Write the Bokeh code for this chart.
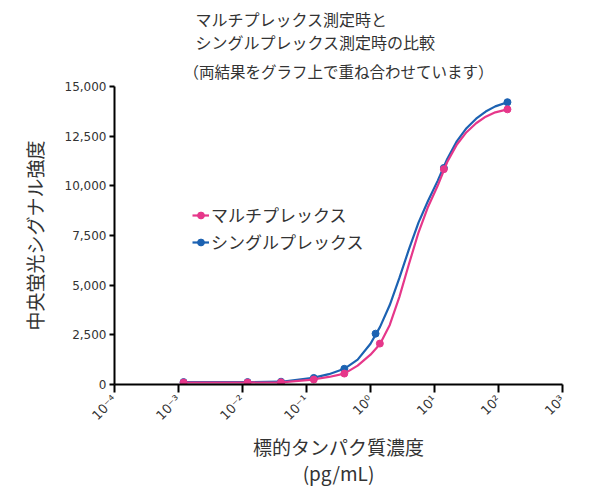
from math import pi
from bokeh.plotting import figure
from bokeh.models import (Range1d, FixedTicker, NumeralTickFormatter, Title,
                          Legend, LegendItem)
from bokeh.embed import file_html
from bokeh.resources import INLINE

# ---- data ----
title_lines = ["マルチプレックス測定時と", "シングルプレックス測定時の比較"]
subtitle = "（両結果をグラフ上で重ね合わせています）"
y_label = "中央蛍光シグナル強度"
x_label = ["標的タンパク質濃度", "(pg/mL)"]
series_names = ["マルチプレックス", "シングルプレックス"]

x_ticks = [0.0001, 0.001, 0.01, 0.1, 1, 10, 100, 1000]
x_tick_labels = ["10⁻⁴", "10⁻³", "10⁻²", "10⁻¹", "10⁰", "10¹", "10²", "10³"]
y_ticks = [0, 2500, 5000, 7500, 10000, 12500, 15000]

# measured points
multi_x = [0.0012, 0.012, 0.04, 0.13, 0.39, 1.4, 14, 138]
multi_y = [100, 100, 110, 250, 550, 2060, 10840, 13850]
single_x = [0.0012, 0.012, 0.04, 0.13, 0.39, 1.2, 14, 138]
single_y = [120, 120, 140, 330, 790, 2560, 10900, 14210]

# fitted curves
curve_x = [0.0012, 0.012, 0.04, 0.126, 0.224, 0.39, 0.63, 1.0, 1.41, 2.0, 2.82,
           3.98, 5.62, 7.94, 11.2, 15.8, 22.4, 31.6, 44.7, 63.1, 89.1, 138]
multi_curve = [100, 100, 110, 250, 380, 550, 950, 1500, 2040, 3000, 4400,
               6050, 7650, 8950, 10000, 11200, 12080, 12700, 13150, 13480, 13700, 13850]
single_curve = [120, 120, 140, 330, 520, 790, 1250, 2050, 2900, 4000, 5350,
                6800, 8150, 9250, 10250, 11350, 12250, 12900, 13380, 13740, 14000, 14210]

PINK = "#e6378a"
BLUE = "#1c62b2"
TXT = "#333333"
JP = "Noto Sans CJK JP"

p = figure(width=581, height=489, x_axis_type="log",
           x_range=Range1d(1e-4, 1e3), y_range=Range1d(0, 15000),
           output_backend="svg", toolbar_location=None,
           min_border_left=114, min_border_right=19,
           min_border_top=86, min_border_bottom=104)
p.grid.visible = False
p.outline_line_color = None
p.background_fill_color = "white"
p.border_fill_color = "white"

# titles (added from the plot outward)
p.add_layout(Title(text=subtitle, align="center", text_font=JP, text_font_size="15.5px",
                   text_color=TXT, text_font_style="normal", standoff=10, offset=4), "above")
p.add_layout(Title(text="\n".join(title_lines), align="left", offset=195 - 114,
                   text_font=JP, text_font_size="16px", text_color=TXT,
                   text_font_style="normal", text_line_height=0.95, standoff=-3), "above")

# axes
p.xaxis.ticker = FixedTicker(ticks=x_ticks, minor_ticks=[])
p.xaxis.major_label_overrides = {t: l for t, l in zip(x_ticks, x_tick_labels)}
p.xaxis.major_label_orientation = pi / 4
p.yaxis.ticker = FixedTicker(ticks=y_ticks, minor_ticks=[])
p.yaxis.formatter = NumeralTickFormatter(format="0,0")
for ax in (p.xaxis, p.yaxis):
    ax.axis_line_width = 2
    ax.axis_line_color = "black"
    ax.major_tick_line_width = 2
    ax.major_tick_line_color = "black"
    ax.major_tick_in = 0
    ax.minor_tick_line_color = None
    ax.major_label_text_font = "DejaVu Sans"
    ax.major_label_text_font_size = "12px"
    ax.major_label_text_color = TXT
    ax.axis_label_text_font = JP
    ax.axis_label_text_font_size = "19px"
    ax.axis_label_text_font_style = "normal"
    ax.axis_label_text_color = TXT
p.xaxis.major_label_text_font_size = "13px"
p.xaxis.major_tick_out = 8
p.yaxis.major_tick_out = 5
p.yaxis.major_label_standoff = 3
p.yaxis.axis_label = y_label
p.yaxis.axis_label_standoff = 14
p.xaxis.axis_label = "\n".join(x_label)
p.xaxis.axis_label_standoff = 2
p.xaxis.axis_label_text_line_height = 0.96

# curves and points
lb = p.line(curve_x, single_curve, line_color=BLUE, line_width=2.2)
pb = p.scatter(single_x, single_y, size=7, fill_color=BLUE, line_color=BLUE)
lp = p.line(curve_x, multi_curve, line_color=PINK, line_width=2.2)
pp = p.scatter(multi_x, multi_y, size=7, fill_color=PINK, line_color=PINK)

legend = Legend(items=[LegendItem(label=series_names[0], renderers=[lp, pp]),
                       LegendItem(label=series_names[1], renderers=[lb, pb])],
                location=(78, 130), background_fill_alpha=0, border_line_color=None,
                label_text_font=JP, label_text_font_size="17px", label_text_color=TXT,
                glyph_width=17, glyph_height=20, label_height=20, label_standoff=2,
                spacing=2, padding=0, margin=0)
p.add_layout(legend)

open("out.html", "w").write(file_html(p, INLINE))
